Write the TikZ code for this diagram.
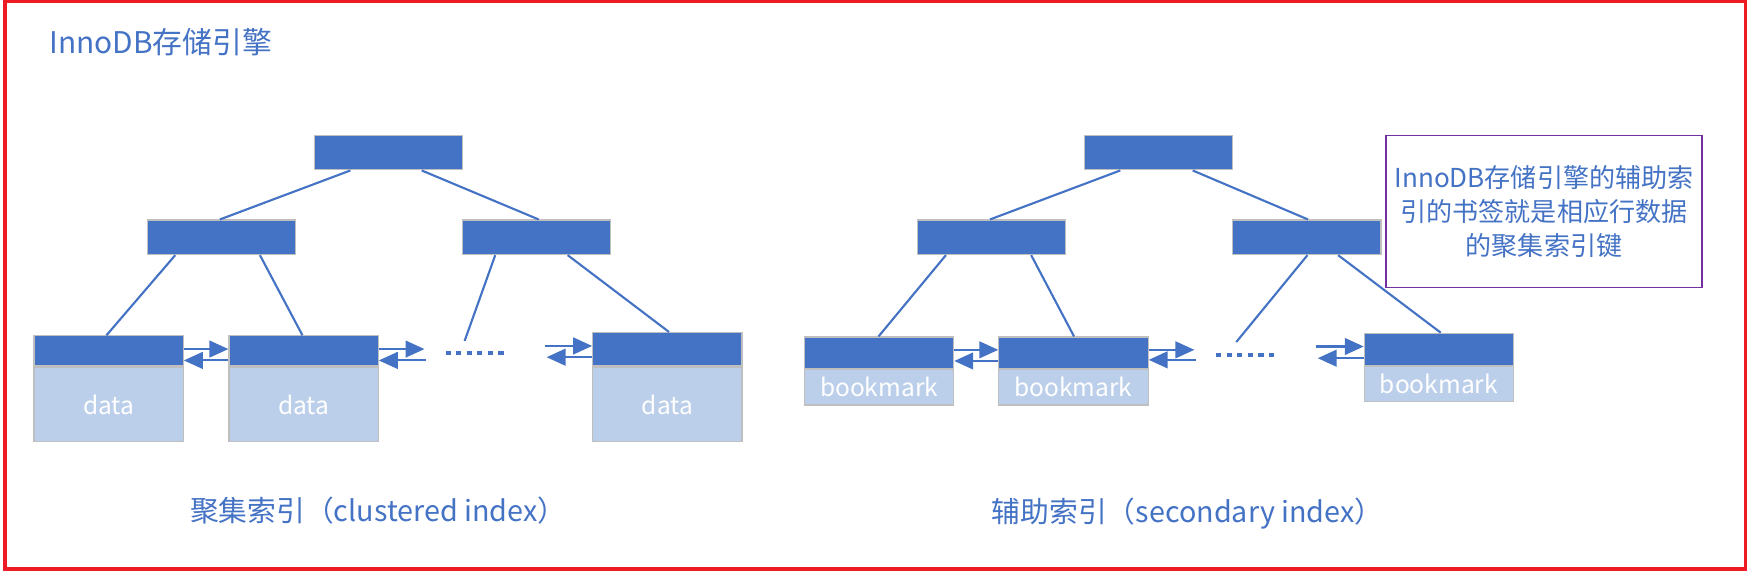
\documentclass[tikz,border=0pt]{standalone}
\usepackage{fontspec}
\setmainfont{Noto Sans CJK SC}
\usetikzlibrary{arrows.meta,calc}
\definecolor{dblue}{HTML}{4472C4}
\definecolor{lblue}{HTML}{BCCFEA}
\definecolor{gborder}{HTML}{BFBFBF}
\definecolor{redb}{HTML}{ED1C24}
\definecolor{purp}{HTML}{7030A0}
\begin{document}
\begin{tikzpicture}[x=0.5pt,y=-0.5pt,
  inbox/.style={draw=gborder,line width=0.5pt,fill=dblue,inner sep=0pt,
    minimum width=66.5pt,minimum height=15.5pt,anchor=north west},
  hdr/.style={draw=gborder,line width=0.5pt,fill=dblue,inner sep=0pt,
    minimum width=67pt,anchor=north west},
  bodyb/.style={draw=gborder,line width=0.5pt,fill=lblue,inner sep=0pt,
    minimum width=67pt,anchor=north,text=white,font=\fontsize{11pt}{13pt}\selectfont},
  tl/.style={dblue,line width=0.95pt},
  arr/.style={dblue,line width=0.95pt,-{Triangle[length=8.5pt,width=7.5pt]}},
  dotline/.style={dblue,line width=1.9pt,dash pattern=on 2.3pt off 2.44pt},
  captext/.style={text=dblue,inner sep=0pt,anchor=base,font=\fontsize{12.9pt}{15pt}\selectfont}]
\useasboundingbox (0,0) rectangle (1568,512.5);
\draw[redb,line width=1.6pt] (4.5,1.5) rectangle (1566.5,510.5);
\node[anchor=base west,inner sep=0pt,text=dblue,font=\fontsize{13.4pt}{16pt}\selectfont] (title) at (44,47.8) {InnoDB存储引擎};

% ---------- left tree ----------
\node[inbox] (LR) at (282,121) {};
\node[inbox] (LA) at (131.6,197) {};
\node[inbox] (LB) at (414.5,197) {};
\node[hdr,minimum height=13.5pt] (L1h) at (30,301) {};
\node[bodyb,minimum height=33.5pt] (L1b) at (L1h.south) {data};
\node[hdr,minimum height=13.5pt] (L2h) at (205,301) {};
\node[bodyb,minimum height=33.5pt] (L2b) at (L2h.south) {data};
\node[hdr,minimum height=15pt] (L3h) at (531.5,298) {};
\node[bodyb,minimum height=33.5pt] (L3b) at (L3h.south) {data};
\coordinate (LfreeA) at (417,306);

\draw[tl] ($(LR.south)+(-34.5,0)$) -- ($(LA.north)+(-1.3,0)$);
\draw[tl] ($(LR.south)+(29.5,0)$) -- ($(LB.north)+(2,0)$);
\draw[tl] ($(LA.south)+(-41.3,0)$) -- ($(L1h.north)+(-2,0)$);
\draw[tl] ($(LA.south)+(34.7,0)$) -- ($(L2h.north)+(-1,0)$);
\draw[tl] ($(LB.south)+(-37,0)$) -- (LfreeA);
\draw[tl] ($(LB.south)+(28,0)$) -- ($(L3h.north)+(1.5,0)$);

\coordinate (yA) at (0,313.3);
\coordinate (yB) at (0,323.5);
\draw[arr] (L1h.east |- yA) -- (L2h.west |- yA);
\draw[arr] (L2h.west |- yB) -- (L1h.east |- yB);
\coordinate (fA) at (381,313.3);
\coordinate (fB) at (382,323.5);
\draw[arr] (L2h.east |- fA) -- (fA);
\draw[arr] (fB) -- (L2h.east |- fB);
\coordinate (fC) at (489,310.5);
\coordinate (fD) at (490.6,320.6);
\draw[arr] (fC) -- (L3h.west |- fC);
\draw[arr] (L3h.west |- fD) -- (fD);
\coordinate (dL1) at (400,317);
\coordinate (dL2) at (452,317);
\draw[dotline] (dL1) -- (dL2);

\node[captext] (capL) at (339.5,468.3) {聚集索引（clustered index）};

% ---------- right tree ----------
\node[inbox] (RR) at (973,121) {};
\node[inbox] (RA) at (823,197) {};
\node[inbox] (RB) at (1106,197) {};
\node[hdr,minimum height=14.2pt] (B1h) at (721.5,302) {};
\node[bodyb,minimum height=15.8pt] (B1b) at (B1h.south) {bookmark};
\node[hdr,minimum height=14.2pt] (B2h) at (896,302) {};
\node[bodyb,minimum height=15.8pt] (B2b) at (B2h.south) {bookmark};
\node[hdr,minimum height=14.5pt] (B3h) at (1224,298.6) {};
\node[bodyb,minimum height=15.7pt] (B3b) at (B3h.south) {bookmark};
\coordinate (RfreeA) at (1109.6,307);

\draw[tl] ($(RR.south)+(-34.5,0)$) -- ($(RA.north)+(-1.5,0)$);
\draw[tl] ($(RR.south)+(30.5,0)$) -- ($(RB.north)+(1,0)$);
\draw[tl] ($(RA.south)+(-41,0)$) -- ($(B1h.north)+(-0.5,0)$);
\draw[tl] ($(RA.south)+(35.5,0)$) -- ($(B2h.north)+(0.5,0)$);
\draw[tl] ($(RB.south)+(0.5,0)$) -- (RfreeA);
\draw[tl] ($(RB.south)+(28,0)$) -- ($(B3h.north)+(1.6,0)$);

\coordinate (yC) at (0,314);
\coordinate (yD) at (0,324);
\draw[arr] (B1h.east |- yC) -- (B2h.west |- yC);
\draw[arr] (B2h.west |- yD) -- (B1h.east |- yD);
\coordinate (fE) at (1072,314);
\coordinate (fF) at (1073.6,323);
\draw[arr] (B2h.east |- fE) -- (fE);
\draw[arr] (fF) -- (B2h.east |- fF);
\coordinate (fG) at (1181,311);
\coordinate (fH) at (1182.7,321.5);
\draw[arr] (fG) -- (B3h.west |- fG);
\draw[arr] (B3h.west |- fH) -- (fH);
\coordinate (dR1) at (1091.6,318.7);
\coordinate (dR2) at (1143.6,318.7);
\draw[dotline] (dR1) -- (dR2);

\node[captext] (capR) at (1066,469) {辅助索引（secondary index）};

% ---------- note ----------
\node[draw=purp,line width=0.5pt,minimum width=141.8pt,minimum height=68.25pt,
  inner sep=0pt,text=dblue,align=center,
  font=\fontsize{11.7pt}{15.2pt}\selectfont] (note) at (1385.8,189.8)
  {InnoDB存储引擎的辅助索\\引的书签就是相应行数据\\的聚集索引键};
\end{tikzpicture}
\end{document}
